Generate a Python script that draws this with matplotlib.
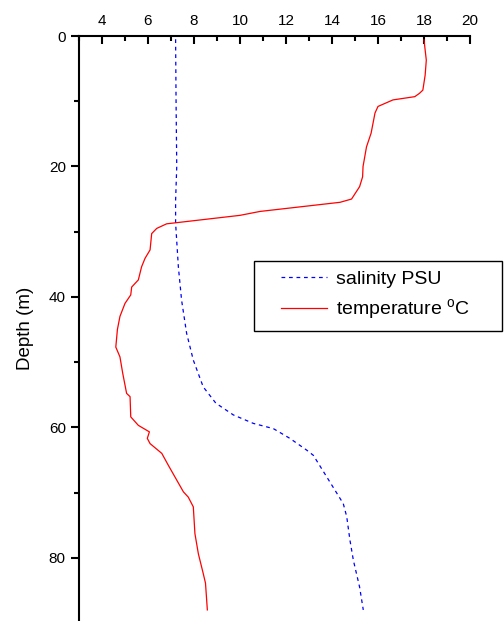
import matplotlib
matplotlib.use("Agg")
import matplotlib.pyplot as plt
from matplotlib.ticker import MultipleLocator
from matplotlib.offsetbox import DrawingArea

plt.rcParams['font.family'] = ['Liberation Sans', 'DejaVu Sans']
plt.rcParams['mathtext.fontset'] = 'custom'
plt.rcParams['mathtext.rm'] = 'Liberation Sans'

# temperature profile (deg C) vs depth (m)
temp_depth = [0.6, 3.7, 6.0, 8.3, 8.8, 9.3, 9.8, 10.8, 11.8, 14.9, 17.0, 20.0, 21.6,
              23.1, 25.0, 25.5, 26.9, 27.5, 28.8, 29.5, 30.3, 32.8, 34.1, 35.4,
              37.4, 38.5, 39.7, 41.0, 43.0, 45.0, 47.7, 49.2, 51.7, 54.8, 55.3,
              58.4, 59.7, 60.7, 61.7, 62.5, 64.0, 65.8, 68.1, 69.9, 70.7, 72.2,
              76.3, 79.4, 82.4, 83.9, 88.0]
temp_vals = [18.0, 18.1, 18.05, 17.95, 17.8, 17.6, 16.65, 16.0, 15.87, 15.7, 15.5,
             15.35, 15.33, 15.2, 14.85, 14.35, 10.87, 10.0, 6.81, 6.38, 6.16, 6.09,
             5.87, 5.72, 5.58, 5.29, 5.25, 5.0, 4.78, 4.67, 4.6, 4.78, 4.9, 5.07,
             5.22, 5.25, 5.58, 6.06, 5.97, 6.09, 6.6, 6.88, 7.25, 7.54, 7.75, 7.97,
             8.04, 8.19, 8.4, 8.5, 8.58]

# salinity profile (PSU) vs depth (m)
sal_depth = [0.5, 10.0, 20.0, 25.2, 28.7, 35.4, 40.5, 45.6, 49.7, 53.8, 56.3, 58.1,
             59.4, 60.2, 61.7, 63.5, 64.3, 67.6, 71.7, 73.7, 77.3, 80.4, 84.5, 88.0]
sal_vals = [7.2, 7.22, 7.25, 7.2, 7.2, 7.32, 7.46, 7.68, 7.97, 8.4, 8.95, 9.71,
            10.58, 11.45, 12.17, 12.9, 13.19, 13.77, 14.49, 14.64, 14.78, 14.93,
            15.2, 15.36]

fig = plt.figure(figsize=(5.04, 6.21), dpi=100)
ax = fig.add_axes([79 / 504, 0, (470 - 79) / 504, 1 - 36 / 621])

ax.plot(sal_vals, sal_depth, color='blue', ls=(0, (3, 3)), lw=0.9,
        label='salinity PSU')
ax.plot(temp_vals, temp_depth, color='red', lw=0.9,
        label=r'temperature $^{\mathrm{o}}$C')

ax.set_xlim(3, 20)
ax.set_ylim(89.7, 0)
ax.xaxis.set_major_locator(MultipleLocator(2))
ax.xaxis.set_minor_locator(MultipleLocator(1))
ax.yaxis.set_major_locator(MultipleLocator(20))
ax.yaxis.set_minor_locator(MultipleLocator(10))
ax.xaxis.tick_top()
ax.tick_params(axis='x', which='major', direction='in', length=6, width=1.5,
               labelsize=11, pad=6)
ax.tick_params(axis='x', which='minor', direction='in', length=3.5, width=1.5)
ax.tick_params(axis='y', which='major', direction='out', length=6, width=1.5,
               labelsize=11)
ax.tick_params(axis='y', which='minor', direction='out', length=3.5, width=1.5)
for s in ['right', 'bottom']:
    ax.spines[s].set_visible(False)
for s in ['top', 'left']:
    ax.spines[s].set_linewidth(1.5)

ax.set_ylabel('Depth (m)', fontsize=13.5, labelpad=11)

leg = ax.legend(loc='center', bbox_to_anchor=(254 / 504, 1 - 331 / 621, 248 / 504, 70 / 621),
                bbox_transform=fig.transFigure, mode='expand', fontsize=14,
                fancybox=False, framealpha=1, edgecolor='black', handlelength=2.4,
                handletextpad=0.45, borderpad=0.45, borderaxespad=0)
leg.get_frame().set_linewidth(1.0)
# push the legend rows a bit to the right, like the original
for row in leg._legend_handle_box.get_children()[0].get_children():
    row._children.insert(0, DrawingArea(6.7, 1))

fig.savefig('out.png', dpi=100)
